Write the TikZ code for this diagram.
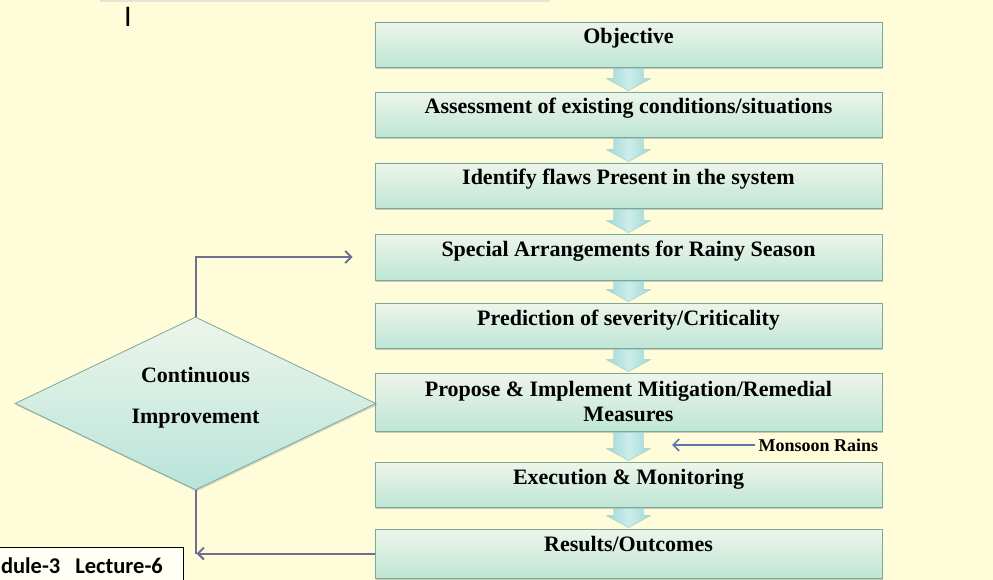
\documentclass[tikz,border=0pt]{standalone}
\usepackage{fontspec}
\setmainfont{Liberation Serif}
\newfontfamily\calib{Carlito}
\usetikzlibrary{arrows.meta,shapes.geometric,shadows,calc}
\definecolor{paper}{HTML}{FFFCDA}
\definecolor{boxtop}{HTML}{EEF5EA}
\definecolor{boxbot}{HTML}{BEE6D6}
\definecolor{diabot}{HTML}{B8E4DA}
\definecolor{boxline}{HTML}{7DA796}
\definecolor{flowside}{HTML}{9FD7D4}
\definecolor{flowmid}{HTML}{CDEDEB}
\definecolor{loopcol}{HTML}{6E6E8E}
\definecolor{raincol}{HTML}{5877AE}
\definecolor{topshade}{HTML}{EFE0D6}

\begin{document}
\begin{tikzpicture}[x=1pt,y=-1pt,
  every node/.style={font=\fontsize{22}{25}\selectfont\bfseries},
  stepbox/.style={draw=boxline,line width=.8pt,top color=boxtop,bottom color=boxbot,
    minimum width=507pt,inner xsep=4pt,inner ysep=4pt,text height=18pt,text depth=19pt,
    drop shadow={shadow xshift=1.2pt,shadow yshift=-1.6pt,opacity=.4}},
  flowarrow/.style={left color=flowside,right color=flowside,middle color=flowmid,draw=flowside!85!gray,line width=.4pt},
  loopline/.style={draw=loopcol,line width=2pt},
  barb/.style={-{Straight Barb[length=6pt,width=12pt]}}]
\path[use as bounding box,fill=paper] (0,0) rectangle (993,580);
\clip (0,0) rectangle (993,580);
\fill[topshade] (100,0) rectangle (550,2.5);
\node[font=\calib\fontsize{30}{30}\selectfont] (cursor) at (128,17) {I};
% main sequence
\node[stepbox] (obj) at (628.5,44.5) {Objective};
\node[stepbox] (ass) at (628.5,114.5) {Assessment of existing conditions/situations};
\node[stepbox] (idf) at (628.5,185.5) {Identify flaws Present in the system};
\node[stepbox,text depth=20pt] (spc) at (628.5,257) {Special Arrangements for Rainy Season};
\node[stepbox] (prd) at (628.5,325.5) {Prediction of severity/Criticality};
\node[stepbox,align=center,text height=44pt,text depth=6pt] (prp) at (628.5,402) {Propose \& Implement Mitigation/Remedial\\Measures};
\node[stepbox] (exe) at (628.5,484.5) {Execution \& Monitoring};
\node[stepbox,text depth=23pt] (res) at (628.5,553.5) {Results/Outcomes};
\foreach \a/\b in {obj/ass,ass/idf,idf/spc,spc/prd,prd/prp,prp/exe,exe/res}
  \path[flowarrow] ($(\a.south)+(-15,1)$) -- ($(\a.south)+(15,1)$) -- ($(\b.north)+(15,-13)$)
    -- ($(\b.north)+(22,-13)$) -- ($(\b.north)+(0,-1)$) -- ($(\b.north)+(-22,-13)$)
    -- ($(\b.north)+(-15,-13)$) -- cycle;
% feedback loop
\node[diamond,draw=boxline,line width=.8pt,top color=boxtop,bottom color=diabot,
  minimum width=361pt,minimum height=173pt,inner sep=0pt,aspect=2.09,align=center,text depth=16pt,
  drop shadow={shadow xshift=1.2pt,shadow yshift=-1.6pt,opacity=.3}] (ci) at (195.5,403.5) {Continuous\\[16pt]Improvement};
\draw[loopline,barb,shorten >=22pt] (ci.north) |- (spc.west);
\draw[loopline,barb,shorten >=1pt] (res.west) -- (res.west -| ci.south);
\draw[loopline] (ci.south) -- (ci.south |- res.west);
% outside input
\node[font=\fontsize{18}{20}\selectfont\bfseries,anchor=west] (rain) at (755,445) {Monsoon Rains};
\coordinate (rainend) at (672,445);
\draw[draw=raincol,line width=1.6pt,barb] (rain.west) -- (rainend);
% slide footer
\draw[fill={rgb,255:red,255;green,255;blue,246},line width=.9pt] (-5,547) rectangle (183,590);
\node[font=\calib\fontsize{22.5}{24}\selectfont\bfseries,anchor=base east,inner sep=0pt] (mod) at (163,573) {dule-3\hspace{15pt}Lecture-6};
\end{tikzpicture}
\end{document}
